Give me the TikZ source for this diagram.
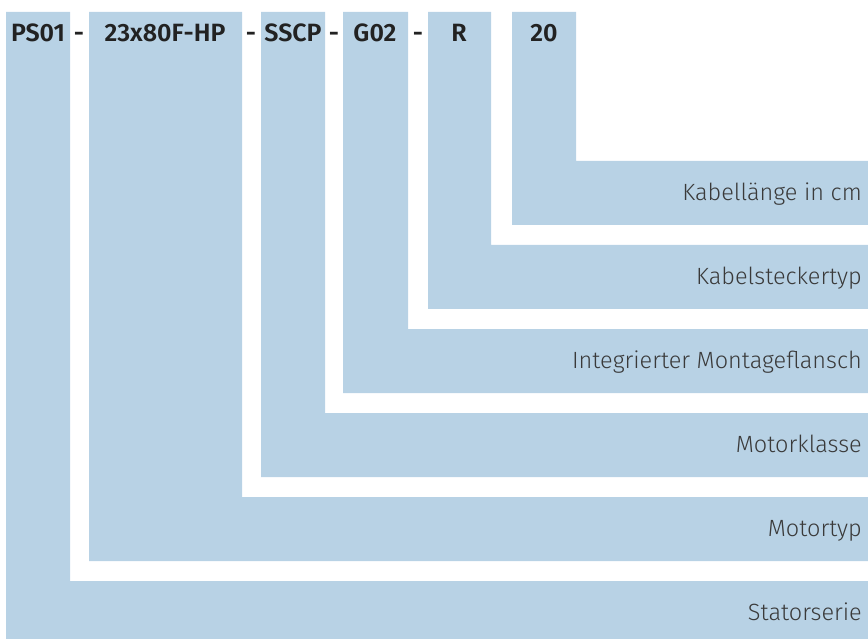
\documentclass[tikz,border=0pt]{standalone}
\usepackage{fontspec}
\setmainfont{Fira Sans Light}[BoldFont=Fira Sans SemiBold]
\definecolor{codeblue}{HTML}{B8D2E5}
\definecolor{labelgray}{HTML}{3A3A3A}
\definecolor{codeblack}{HTML}{222222}
\tikzset{
  code/.style={font=\fontsize{25}{29}\selectfont\bfseries, text=codeblack, anchor=base, inner sep=0pt},
  meaning/.style={font=\fontsize{23.5}{28}\selectfont, text=labelgray, anchor=base east, inner sep=0pt}
}
\begin{document}
\begin{tikzpicture}[x=1pt, y=-1pt]
\useasboundingbox (0,0) rectangle (868,639);
% L-shaped bands, from the outer one inwards
\fill[codeblue] (6,12) -- (70,12) -- (70,581) -- (868,581) -- (868,639) -- (6,639) -- cycle;
\fill[codeblue] (89,12) -- (242,12) -- (242,497) -- (868,497) -- (868,561) -- (89,561) -- cycle;
\fill[codeblue] (261,12) -- (325,12) -- (325,413) -- (868,413) -- (868,477) -- (261,477) -- cycle;
\fill[codeblue] (343,12) -- (408,12) -- (408,329) -- (868,329) -- (868,393) -- (343,393) -- cycle;
\fill[codeblue] (428,12) -- (491,12) -- (491,245) -- (868,245) -- (868,309) -- (428,309) -- cycle;
\fill[codeblue] (512,12) -- (576,12) -- (576,161) -- (868,161) -- (868,225) -- (512,225) -- cycle;
% code parts
\node[code] (serie) at (38,42) {PS01};
\node[code] (typ) at (165,42) {23x80F-HP};
\node[code] (klasse) at (293,42) {SSCP};
\node[code] (flansch) at (375,42) {G02};
\node[code] (stecker) at (459,42) {R};
\node[code] (laenge) at (544,42) {20};
\node[code] (d1) at (79,42) {-};
\node[code] (d2) at (251,42) {-};
\node[code] (d3) at (334,42) {-};
\node[code] (d4) at (418,42) {-};
% meanings
\node[meaning] (laengetxt) at (862,201) {Kabellänge in cm};
\node[meaning] (steckertxt) at (862,285) {Kabelsteckertyp};
\node[meaning] (flanschtxt) at (862,368) {Integrierter Montageflansch};
\node[meaning] (klassetxt) at (862,452) {Motorklasse};
\node[meaning] (typtxt) at (862,536) {Motortyp};
\node[meaning] (serietxt) at (862,620) {Statorserie};
\end{tikzpicture}
\end{document}
